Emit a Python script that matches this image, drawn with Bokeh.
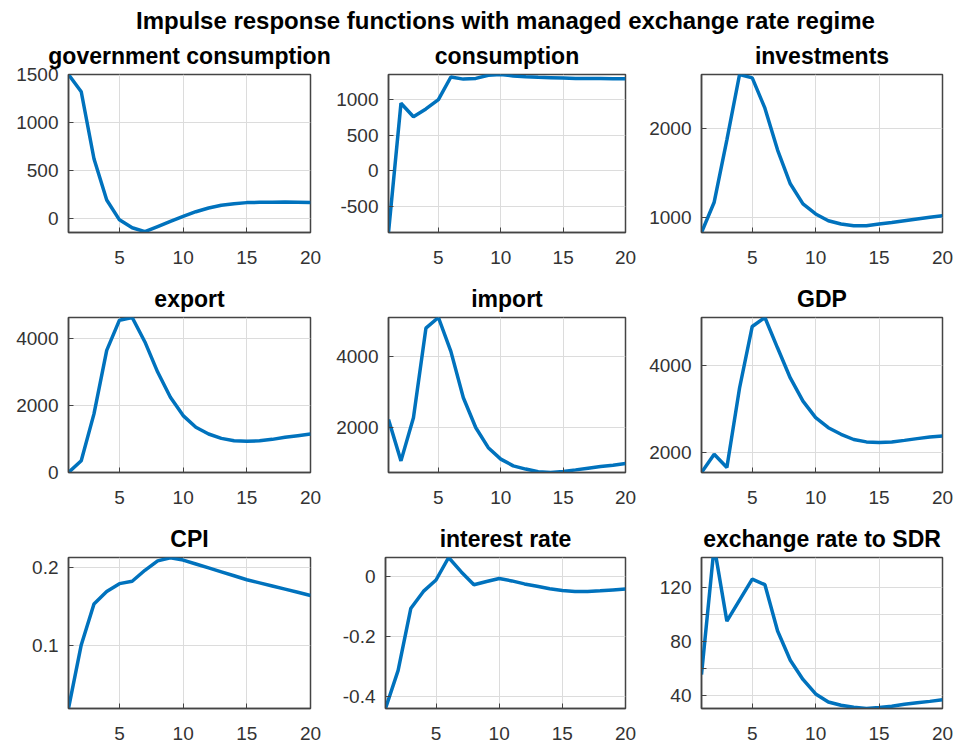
from bokeh.plotting import figure
from bokeh.models import Range1d, FixedTicker, ColumnDataSource
from bokeh.layouts import column, row
from bokeh.embed import file_html
from bokeh.resources import INLINE

# ---------------- data ----------------
main_title = "Impulse response functions with managed exchange rate regime"
periods = list(range(1, 21))
x_ticks = [5, 10, 15, 20]

titles = ["government consumption", "consumption", "investments",
          "export", "import", "GDP",
          "CPI", "interest rate", "exchange rate to SDR"]

gov_consumption = [1500, 1320, 620, 190, -18, -100, -141, -88, -35, 18,
                   67, 106, 134, 151, 162, 165, 166, 168, 166, 162]
consumption = [-870, 950, 760, 870, 1000, 1320, 1290, 1300, 1345, 1355,
               1335, 1322, 1315, 1310, 1305, 1300, 1298, 1297, 1296, 1295]
investments = [830, 1170, 1870, 2604, 2566, 2226, 1755, 1377, 1151, 1038,
               962, 925, 906, 906, 925, 943, 962, 981, 1000, 1019]
export = [0, 350, 1750, 3650, 4550, 4630, 3900, 3000, 2250, 1700,
          1350, 1150, 1020, 950, 930, 950, 990, 1050, 1100, 1150]
imports = [2230, 1070, 2280, 4790, 5090, 4140, 2840, 2000, 1440, 1120,
           930, 840, 765, 744, 772, 818, 865, 911, 950, 995]
gdp = [1544, 1960, 1660, 3480, 4890, 5095, 4395, 3710, 3180, 2800,
       2570, 2420, 2300, 2245, 2230, 2245, 2280, 2320, 2355, 2380]
cpi = [0.020, 0.101, 0.153, 0.169, 0.179, 0.182, 0.196, 0.208, 0.212, 0.209,
       0.204, 0.199, 0.194, 0.189, 0.184, 0.180, 0.176, 0.172, 0.168, 0.164]
interest_rate = [-0.441, -0.314, -0.108, -0.051, -0.013, 0.062, 0.014, -0.029, -0.018, -0.008,
                 -0.016, -0.026, -0.034, -0.042, -0.048, -0.051, -0.051, -0.049, -0.046, -0.043]
exchange_rate = [55.6, 151, 95.3, 110.9, 126.5, 122.4, 88, 66.3, 52, 41.2,
                 35.2, 32.8, 31.4, 30.4, 31.1, 32.1, 33.5, 34.7, 35.7, 36.9]

series = [gov_consumption, consumption, investments, export, imports, gdp,
          cpi, interest_rate, exchange_rate]

y_limits = [(-150, 1500), (-870, 1355), (830, 2604),
            (0, 4630), (744, 5090), (1544, 5095),
            (0.02, 0.2123), (-0.441, 0.062), (30.4, 142.6)]

y_ticks = [[0, 500, 1000, 1500], [-500, 0, 500, 1000], [1000, 2000],
           [0, 2000, 4000], [2000, 4000], [2000, 4000],
           [0.1, 0.2], [-0.4, -0.2, 0], [40, 60, 80, 100, 120]]
y_tick_labels = [["0", "500", "1000", "1500"], ["-500", "0", "500", "1000"], ["1000", "2000"],
                 ["0", "2000", "4000"], ["2000", "4000"], ["2000", "4000"],
                 ["0.1", "0.2"], ["-0.4", "-0.2", "0"], ["40", "", "80", "", "120"]]

# ---------------- layout / style ----------------
FONT = "Liberation Sans"
LINE_COLOR = "#0072BD"
AX_COLOR = "#444444"
GRID_COLOR = "#dcdcdc"

# (left border, frame width, right border) per column
col_geom = [(68, 242, 23), (52, 240, 15), (61, 241, 14)]
# (top border, frame height, bottom border) per row
row_geom = [(40, 158, 45), (40, 155, 45), (40, 156, 29)]

TOTAL_W = sum(sum(c) for c in col_geom)

header = figure(width=TOTAL_W, height=34, title=main_title,
                min_border_left=54, min_border_right=0, min_border_top=33, min_border_bottom=0,
                toolbar_location=None, output_backend="svg",
                x_range=Range1d(0, 1), y_range=Range1d(0, 1))
header.axis.visible = False
header.grid.visible = False
header.outline_line_color = None
header.title.align = "center"
header.title.text_font = FONT
header.title.text_font_size = "24px"
header.title.text_font_style = "bold"
header.title.text_color = "#000000"
header.title.standoff = 0
header.line(x=[0, 1], y=[0, 0], line_alpha=0)

rows = []
for r in range(3):
    top, fh, bottom = row_geom[r]
    figs = []
    for c in range(3):
        i = r * 3 + c
        left, fw, right = col_geom[c]
        lo, hi = y_limits[i]
        p = figure(width=left + fw + right, height=top + fh + bottom,
                   min_border_left=left, min_border_right=right,
                   min_border_top=top, min_border_bottom=bottom,
                   x_range=Range1d(1, 20), y_range=Range1d(lo, hi),
                   title=titles[i], toolbar_location=None, output_backend="svg")
        src = ColumnDataSource(dict(x=periods, y=series[i]))
        p.line(x="x", y="y", source=src, line_color=LINE_COLOR, line_width=3.5)

        p.title.align = "center"
        p.title.text_font = FONT
        p.title.text_font_size = "23px"
        p.title.text_font_style = "bold"
        p.title.text_color = "#000000"
        p.title.standoff = 12

        p.xaxis.ticker = FixedTicker(ticks=x_ticks)
        p.yaxis.ticker = FixedTicker(ticks=y_ticks[i])
        p.xaxis.major_label_overrides = {t: str(t) for t in x_ticks}
        p.yaxis.major_label_overrides = dict(zip(y_ticks[i], y_tick_labels[i]))

        for ax in (p.xaxis[0], p.yaxis[0]):
            ax.axis_line_color = AX_COLOR
            ax.axis_line_width = 1.5
            ax.major_tick_line_color = AX_COLOR
            ax.major_tick_in = 5
            ax.major_tick_out = 0
            ax.minor_tick_line_color = None
            ax.major_label_text_font = FONT
            ax.major_label_text_font_size = "19px"
            ax.major_label_text_color = "#333333"
        p.xaxis.major_label_standoff = 18
        p.yaxis.major_label_standoff = 10

        p.xgrid.grid_line_color = GRID_COLOR
        p.ygrid.grid_line_color = GRID_COLOR
        p.outline_line_color = AX_COLOR
        p.outline_line_width = 1.5
        p.background_fill_color = "white"
        p.border_fill_color = "white"
        figs.append(p)
    rows.append(row(*figs, spacing=0))

layout = column(header, *rows, spacing=0)

with open("out.html", "w") as f:
    f.write(file_html(layout, INLINE, title="Impulse responses"))
